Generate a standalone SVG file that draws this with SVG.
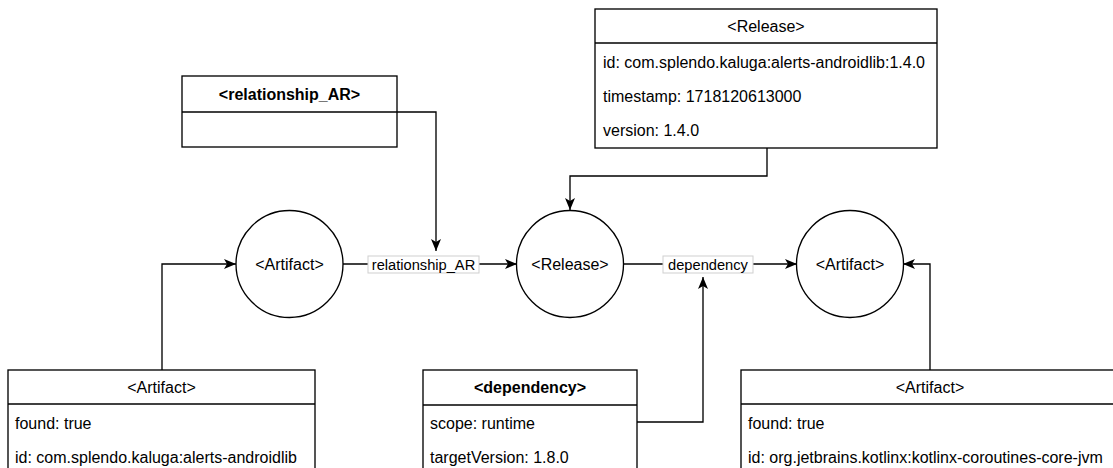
<svg xmlns="http://www.w3.org/2000/svg" width="1113" height="468" viewBox="0 0 1113 468">
<style>
.box{fill:#fff;stroke:#000;stroke-width:1.33}
.t{font-family:"Liberation Sans",Arial,sans-serif;font-size:16px;fill:#000}
.c{text-anchor:middle}
.b{font-weight:bold}
.el{font-family:"Liberation Sans",Arial,sans-serif;font-size:14.67px;fill:#000;text-anchor:middle}
.lb{fill:#fff;stroke:#cfcfcf;stroke-width:1}
.e{fill:none;stroke:#000;stroke-width:1.33}
</style>
<defs>
<marker id="arr" viewBox="0 0 12 10" refX="12" refY="5" markerWidth="12" markerHeight="10" markerUnits="userSpaceOnUse" orient="auto">
<path d="M0,0 L12,5 L0,10 L3,5 Z" fill="#000"/>
</marker>
</defs>
<rect width="1113" height="468" fill="#fff"/>
<g id="connectors">
<path class="e" d="M767,148 V176 H570 V210" marker-end="url(#arr)"/>
<path class="e" d="M397,112 H436 V251" marker-end="url(#arr)"/>
<path class="e" d="M343,264 H517" marker-end="url(#arr)"/>
<path class="e" d="M623,264 H797" marker-end="url(#arr)"/>
<path class="e" d="M637,422 H703 V277" marker-end="url(#arr)"/>
<path class="e" d="M162,370 V264 H236" marker-end="url(#arr)"/>
<path class="e" d="M930,370 V264 H903" marker-end="url(#arr)"/>
<rect class="lb" x="368" y="256" width="111" height="17"/>
<text class="el" x="423.5" y="269.5">relationship_AR</text>
<rect class="lb" x="663" y="256" width="90" height="17"/>
<text class="el" x="708" y="269.5">dependency</text>
</g>
<g id="release-box">
<rect class="box" x="595" y="9" width="342" height="139"/>
<line class="box" x1="595" y1="43" x2="937" y2="43"/>
<text class="t c" x="766" y="31.5">&lt;Release&gt;</text>
<text class="t" x="603" y="67.5">id: com.splendo.kaluga:alerts-androidlib:1.4.0</text>
<text class="t" x="603" y="101.5">timestamp: 1718120613000</text>
<text class="t" x="603" y="135.5">version: 1.4.0</text>
</g>
<g id="relationship-box">
<rect class="box" x="182" y="76" width="215" height="71"/>
<line class="box" x1="182" y1="112" x2="397" y2="112"/>
<text class="t c b" x="289.5" y="99.5">&lt;relationship_AR&gt;</text>
</g>
<g id="artifact-circle-left">
<circle class="box" cx="289.5" cy="264" r="53.5"/>
<text class="t c" x="289.5" y="269.5">&lt;Artifact&gt;</text>
</g>
<g id="release-circle">
<circle class="box" cx="570" cy="264" r="53.5"/>
<text class="t c" x="570" y="269.5">&lt;Release&gt;</text>
</g>
<g id="artifact-circle-right">
<circle class="box" cx="850" cy="264" r="53.5"/>
<text class="t c" x="850" y="269.5">&lt;Artifact&gt;</text>
</g>
<g id="artifact-box-left">
<rect class="box" x="8" y="370" width="307" height="130"/>
<line class="box" x1="8" y1="404" x2="315" y2="404"/>
<text class="t c" x="161.5" y="393">&lt;Artifact&gt;</text>
<text class="t" x="15" y="428.5">found: true</text>
<text class="t" x="15" y="462.5">id: com.splendo.kaluga:alerts-androidlib</text>
</g>
<g id="dependency-box">
<rect class="box" x="423" y="370" width="214" height="130"/>
<line class="box" x1="423" y1="405" x2="637" y2="405"/>
<text class="t c b" x="530" y="393">&lt;dependency&gt;</text>
<text class="t" x="430" y="428.5">scope: runtime</text>
<text class="t" x="430" y="462.5">targetVersion: 1.8.0</text>
</g>
<g id="artifact-box-right">
<rect class="box" x="741" y="370" width="378" height="130"/>
<line class="box" x1="741" y1="404" x2="1119" y2="404"/>
<text class="t c" x="930" y="393">&lt;Artifact&gt;</text>
<text class="t" x="748" y="428.5">found: true</text>
<text class="t" x="748" y="462.5">id: org.jetbrains.kotlinx:kotlinx-coroutines-core-jvm</text>
</g>
</svg>
